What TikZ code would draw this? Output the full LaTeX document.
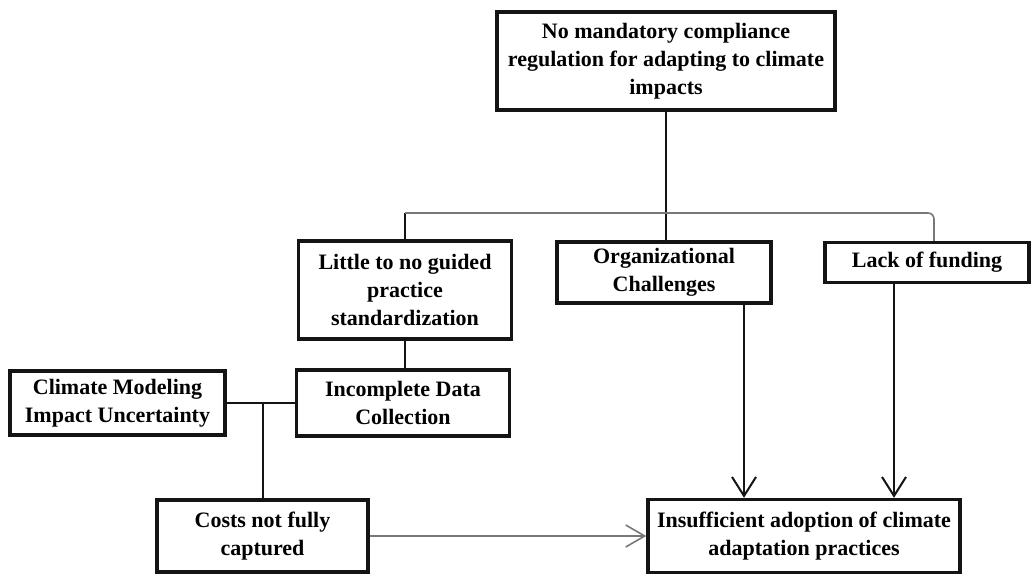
\documentclass[tikz,border=0pt]{standalone}
\usepackage{fontspec}
\setmainfont{Liberation Serif}
\usetikzlibrary{arrows.meta,calc}
\definecolor{boxline}{RGB}{20,20,20}
\definecolor{thingray}{RGB}{120,120,120}
\tikzset{
  cbox/.style={draw=boxline, line width=1.7pt, fill=white, align=center, inner sep=2pt,
               font=\fontsize{11}{14}\selectfont\bfseries},
  link/.style={boxline, line width=1pt},
  glink/.style={thingray, line width=0.8pt},
  arr/.style={link, -{Straight Barb[length=9.5pt, width=12pt]}},
  garr/.style={glink, -{Straight Barb[length=9.5pt, width=11pt]}},
}

\begin{document}
\begin{tikzpicture}[x=0.5pt, y=-0.5pt]
  \useasboundingbox (0,0) rectangle (1031,574);
  % boxes
  \node[cbox, minimum width=169pt, minimum height=49pt] (reg) at (666,61)
    {No mandatory compliance\\regulation for adapting to climate\\impacts};
  \node[cbox, minimum width=106.5pt, minimum height=49pt] (guide) at (405,290)
    {Little to no guided\\practice\\standardization};
  \node[cbox, minimum width=107pt, minimum height=30.5pt] (org) at (664,272.5)
    {Organizational\\Challenges};
  \node[cbox, minimum width=102pt, minimum height=20pt] (fund) at (927,262.5)
    {Lack of funding};
  \node[cbox, minimum width=106.5pt, minimum height=33pt] (data) at (403,403)
    {Incomplete Data\\Collection};
  \node[cbox, minimum width=107.5pt, minimum height=32pt] (model) at (117.5,403)
    {Climate Modeling\\Impact Uncertainty};
  \node[cbox, minimum width=105.5pt, minimum height=36pt] (cost) at (262.5,536)
    {Costs not fully\\captured};
  \node[cbox, minimum width=156pt, minimum height=36.5pt] (adopt) at (804,536)
    {Insufficient adoption of climate\\adaptation practices};

  % tree from the top
  \coordinate (bar) at (665,213);
  \draw[link] (reg.south) -- (reg.south |- org.north);
  \draw[link] (guide.north) -- (guide.north |- bar);
  \draw[glink, rounded corners=3pt] (guide.north |- bar) -| ([xshift=3.5pt]fund.north);
  \draw[link] (guide.south) -- (guide.south |- data.north);
  \draw[link] (model.east) -- (model.east -| data.west);
  \draw[link] (cost.north) -- (cost.north |- model.east);

  % arrows into the result
  \draw[garr] (cost.east) -- (cost.east -| adopt.west);
  \draw[arr] ([xshift=40pt]org.south) -- ([xshift=40pt]org.south |- adopt.north);
  \draw[arr] ([xshift=-16.5pt]fund.south) -- ([xshift=-16.5pt]fund.south |- adopt.north);
\end{tikzpicture}
\end{document}
